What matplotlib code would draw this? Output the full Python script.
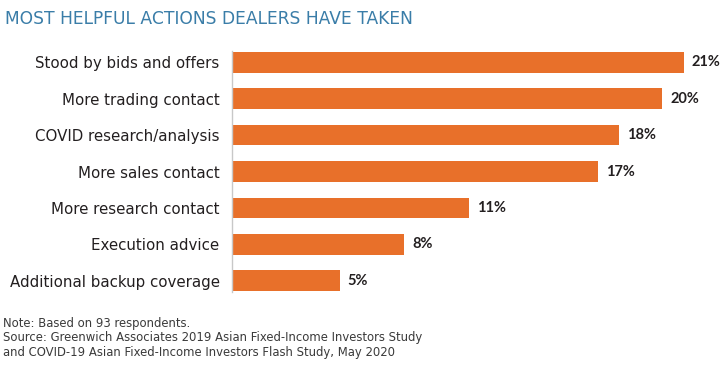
import matplotlib.pyplot as plt

# Datos
acciones = ['Stood by bids and offers', 'More trading contact', 'COVID research/analysis',
            'More sales contact', 'More research contact', 'Execution advice',
            'Additional backup coverage']
porcentajes = [21, 20, 18, 17, 11, 8, 5]

naranja = '#E8702A'
azul = '#3A7DA8'
texto = '#231F20'

fig = plt.figure(figsize=(7.2, 3.68), dpi=100)
ax = fig.add_axes([232 / 720, 69 / 368, 473 / 720, 255 / 368])

y = range(len(acciones))
ax.barh(y, porcentajes, height=0.57, color=naranja)
ax.set_xlim(0, 22)
ax.set_ylim(len(acciones) - 0.5, -0.5)

for i, v in enumerate(porcentajes):
    ax.text(v + 0.38, i, f'{v}%', va='center', ha='left', fontsize=10.5,
            fontweight='bold', family='Lato', color=texto, clip_on=False)

ax.set_yticks(list(y))
ax.set_yticklabels(acciones, fontsize=10.8, color=texto)
ax.tick_params(axis='y', length=0, pad=9)
ax.set_xticks([])
for lado in ['top', 'right', 'bottom']:
    ax.spines[lado].set_visible(False)
ax.spines['left'].set_color('#C8C8C8')
ax.spines['left'].set_linewidth(1)
ax.spines['left'].set_bounds(-0.3, 6.3)

fig.text(5 / 720, 1 - 19 / 368, 'MOST HELPFUL ACTIONS DEALERS HAVE TAKEN',
         fontsize=12.3, color=azul, va='center', ha='left')

notas = ('Note: Based on 93 respondents.\n'
         'Source: Greenwich Associates 2019 Asian Fixed-Income Investors Study\n'
         'and COVID-19 Asian Fixed-Income Investors Flash Study, May 2020')
fig.text(3 / 720, 1 - 317 / 368, notas, fontsize=8.4, color='#3A3A3A',
         va='top', ha='left', linespacing=1.15)

fig.savefig('out.png', dpi=100)
